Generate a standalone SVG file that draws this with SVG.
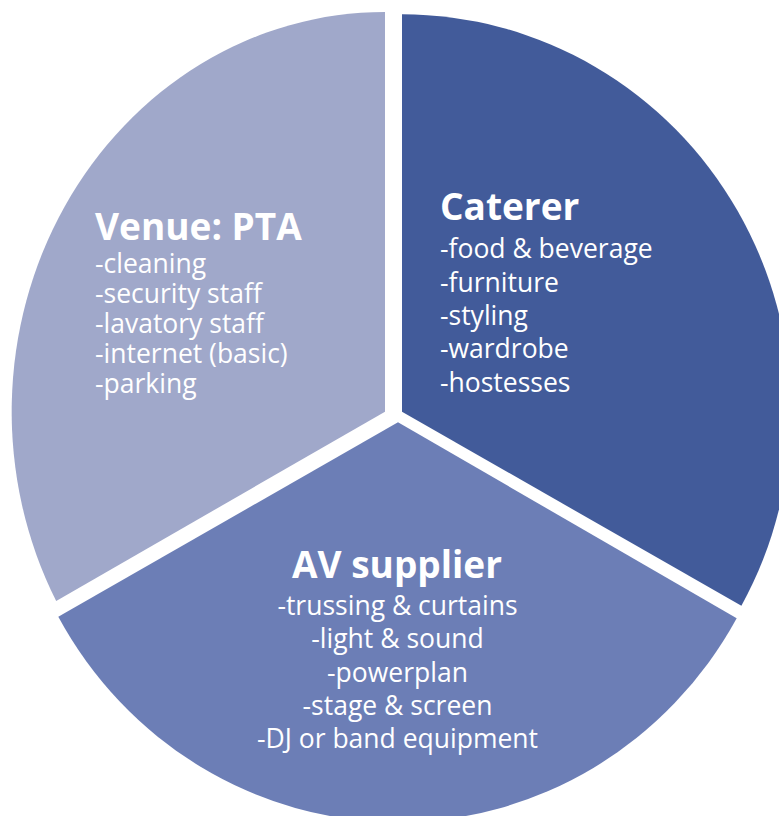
<svg xmlns="http://www.w3.org/2000/svg" width="779" height="816" viewBox="0 0 779 816">
<style>
.t{font-family:"Open Sans","Noto Sans",sans-serif;font-weight:700;font-size:37px;fill:#fff}
.i{font-family:"Open Sans","Noto Sans",sans-serif;font-size:26.5px;fill:#fff}
.m{text-anchor:middle}
</style>
<rect width="779" height="816" fill="#fff"/>
<g id="venue">
<path d="M385 411.7 L385 12 A373.3 399.7 0 0 0 56.2 601 Z" fill="#A0A8CA"/>
<text class="t" x="95" y="240">Venue: PTA</text>
<text class="i" x="95" y="273">-cleaning</text>
<text class="i" x="95" y="303">-security staff</text>
<text class="i" x="95" y="333">-lavatory staff</text>
<text class="i" x="95" y="363">-internet (basic)</text>
<text class="i" x="95" y="393">-parking</text>
</g>
<g id="caterer">
<path d="M402 411.7 L402 14.3 A389 397.4 0 0 1 741.4 605.8 Z" fill="#425B9A"/>
<text class="t" x="440" y="220">Caterer</text>
<text class="i" x="440" y="258">-food &amp; beverage</text>
<text class="i" x="440" y="291.5">-furniture</text>
<text class="i" x="440" y="325">-styling</text>
<text class="i" x="440" y="358.3">-wardrobe</text>
<text class="i" x="440" y="391.6">-hostesses</text>
</g>
<g id="av">
<path d="M398 422.3 L736.7 618.3 A388.7 400 0 0 1 58.3 616.7 Z" fill="#6C7EB6"/>
<text class="t m" x="397" y="578">AV supplier</text>
<text class="i m" x="397.5" y="615">-trussing &amp; curtains</text>
<text class="i m" x="397.5" y="648.3">-light &amp; sound</text>
<text class="i m" x="397.5" y="681.6">-powerplan</text>
<text class="i m" x="397.5" y="715">-stage &amp; screen</text>
<text class="i m" x="397.5" y="748">-DJ or band equipment</text>
</g>
<g id="connectors"/>
</svg>
